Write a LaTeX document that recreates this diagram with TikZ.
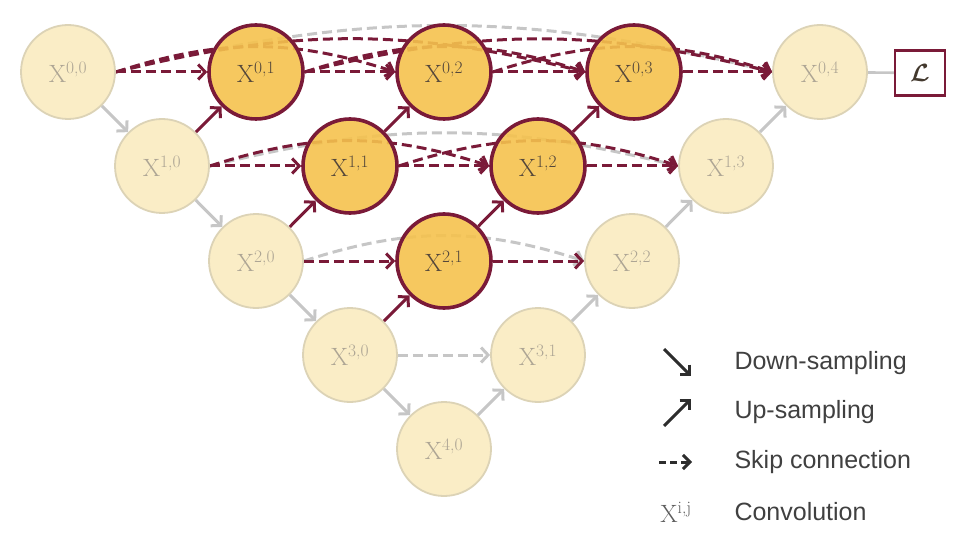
\documentclass[tikz,border=0pt]{standalone}
\usepackage{amsmath}
\usepackage{fontspec}
\newfontfamily\legendfont{Liberation Sans}
\usetikzlibrary{arrows.meta}
\pgfdeclarelayer{bg}
\pgfsetlayers{bg,main}
\definecolor{unetmaroon}{HTML}{7A1A38}
\definecolor{darkfill}{HTML}{F5C24E}
\definecolor{lightfill}{HTML}{FAEDC6}
\definecolor{lightborder}{HTML}{DCD3B6}
\definecolor{lighttext}{HTML}{ADA594}
\definecolor{darktext}{HTML}{54473A}
\definecolor{greyarrow}{HTML}{C6C6C6}
\definecolor{legendtext}{HTML}{404040}
\newcommand\xlab[2]{X\textsuperscript{#1,#2}}
\begin{document}
\begin{tikzpicture}[x=1pt,y=-1pt,
  nodefont/.style={font=\fontsize{25}{25}\selectfont},
  lightnode/.style={circle, minimum size=94pt, inner sep=0pt, fill=lightfill, draw=lightborder, line width=1.8pt, text=lighttext, nodefont},
  darknode/.style={circle, minimum size=94pt, inner sep=0pt, fill=darkfill, fill opacity=0.9, text opacity=1, draw=unetmaroon, line width=3.6pt, text=darktext, nodefont},
  tip/.style={-{Straight Barb[length=7pt,width=15pt]}},
  upm/.style={unetmaroon, line width=3pt, tip},
  upg/.style={greyarrow, line width=3pt, tip},
  skipm/.style={upm, dash pattern=on 10pt off 5pt},
  skipg/.style={upg, dash pattern=on 10pt off 5pt},
  legarrow/.style={legendtext!70!black, line width=3pt, -{Straight Barb[length=7pt,width=14pt]}},
  legtext/.style={anchor=west, text=legendtext, font=\legendfont\fontsize{25}{25}\selectfont},
]
\useasboundingbox (0,0) rectangle (960,537);

% nodes: column k = i + 2j, x = 68 + 94k, y = 72 + 94i
\node[lightnode] (x00) at (68,72)   {\xlab{0}{0}};
\node[darknode]  (x01) at (256,72)  {\xlab{0}{1}};
\node[darknode]  (x02) at (444,72)  {\xlab{0}{2}};
\node[darknode]  (x03) at (634,72)  {\xlab{0}{3}};
\node[lightnode] (x04) at (820,72)  {\xlab{0}{4}};
\node[lightnode] (x10) at (162,166) {\xlab{1}{0}};
\node[darknode]  (x11) at (350,166) {\xlab{1}{1}};
\node[darknode]  (x12) at (538,166) {\xlab{1}{2}};
\node[lightnode] (x13) at (726,166) {\xlab{1}{3}};
\node[lightnode] (x20) at (256,261) {\xlab{2}{0}};
\node[darknode]  (x21) at (444,261) {\xlab{2}{1}};
\node[lightnode] (x22) at (632,261) {\xlab{2}{2}};
\node[lightnode] (x30) at (350,355) {\xlab{3}{0}};
\node[lightnode] (x31) at (538,355) {\xlab{3}{1}};
\node[lightnode] (x40) at (444,449) {\xlab{4}{0}};
\node[draw=unetmaroon, line width=2.2pt, minimum width=50pt, minimum height=45pt, inner sep=0pt, text=darktext!80!black] (loss) at (920,73) {\fontsize{24.88}{26}\selectfont$\boldsymbol{\mathcal{L}}$};

\begin{pgfonlayer}{bg}
  % original U-Net skip connections (grey)
  \draw[skipg] (x00.east) to[bend left=14] (x04.west);
  \draw[skipg] (x10.east) to[bend left=14] (x13.west);
  \draw[skipg] (x20.east) to[bend left=18] (x22.west);
  \draw[skipg] (x30) -- (x31);
  % dense skip connections (maroon arcs)
  \draw[skipm] (x00.east) to[bend left=18] (x02.west);
  \draw[skipm] (x00.east) to[bend left=14] (x03.west);
  \draw[skipm] (x01.east) to[bend left=18] (x03.west);
  \draw[skipm] (x01.east) to[bend left=14] (x04.west);
  \draw[skipm] (x02.east) to[bend left=18] (x04.west);
  \draw[skipm] (x10.east) to[bend left=18] (x12.west);
  \draw[skipm] (x11.east) to[bend left=18] (x13.west);
  % straight skips
  \draw[skipm] (x00) -- (x01);
  \draw[skipm] (x01) -- (x02);
  \draw[skipm] (x02) -- (x03);
  \draw[skipm] (x03) -- (x04);
  \draw[skipm] (x10) -- (x11);
  \draw[skipm] (x11) -- (x12);
  \draw[skipm] (x12) -- (x13);
  \draw[skipm] (x20) -- (x21);
  \draw[skipm] (x21) -- (x22);
  % down-sampling
  \draw[upg] (x00) -- (x10);
  \draw[upg] (x10) -- (x20);
  \draw[upg] (x20) -- (x30);
  \draw[upg] (x30) -- (x40);
  % up-sampling
  \draw[upg] (x40) -- (x31);
  \draw[upg] (x31) -- (x22);
  \draw[upg] (x22) -- (x13);
  \draw[upg] (x13) -- (x04);
  \draw[upm] (x10) -- (x01);
  \draw[upm] (x11) -- (x02);
  \draw[upm] (x12) -- (x03);
  \draw[upm] (x20) -- (x11);
  \draw[upm] (x21) -- (x12);
  \draw[upm] (x30) -- (x21);
  % loss
  \draw[greyarrow, line width=2.6pt] (x04) -- (loss);
\end{pgfonlayer}

% legend
\coordinate (ld1) at (664,349);
\coordinate (ld2) at (691,376);
\coordinate (lu1) at (664,426);
\coordinate (lu2) at (691,399);
\coordinate (ls1) at (659,462);
\coordinate (ls2) at (692,462);
\draw[legarrow] (ld1) -- (ld2);
\draw[legarrow] (lu1) -- (lu2);
\draw[legarrow, dash pattern=on 7pt off 4pt] (ls1) -- (ls2);
\node[legtext] (tdown) at (731,363) {Down-sampling};
\node[legtext] (tup)   at (731,412) {Up-sampling};
\node[legtext] (tskip) at (731,462) {Skip connection};
\node[legtext] (tconv) at (731,512) {Convolution};
\node[text=legendtext!85, nodefont] (xij) at (676,512) {X\textsuperscript{i,j}};
\end{tikzpicture}
\end{document}
